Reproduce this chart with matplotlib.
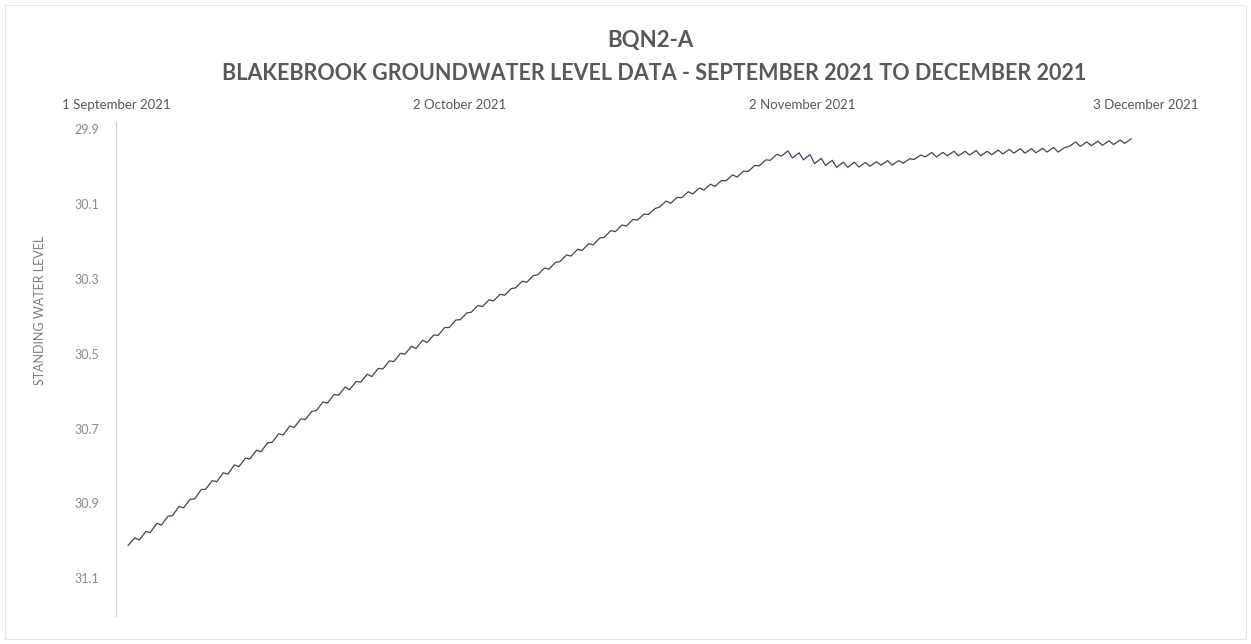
import numpy as np
import pandas as pd
import matplotlib
matplotlib.use("Agg")
import matplotlib.pyplot as plt
from matplotlib.patches import Rectangle

plt.rcParams["font.family"] = ["Lato", "DejaVu Sans"]

# readings: two per day (morning, evening), day 1 = 2 Sep 2021
days = np.arange(1, 92)
morning = [
    31.012, 30.998, 30.978, 30.958, 30.933, 30.912, 30.888, 30.862, 30.842, 30.822,
    30.802, 30.781, 30.762, 30.737, 30.717, 30.697, 30.676, 30.652, 30.632, 30.611,
    30.596, 30.576, 30.561, 30.541, 30.521, 30.501, 30.486, 30.470, 30.451, 30.430,
    30.409, 30.389, 30.374, 30.359, 30.344, 30.324, 30.309, 30.289, 30.274, 30.254,
    30.239, 30.224, 30.209, 30.189, 30.174, 30.159, 30.143, 30.128, 30.108, 30.098,
    30.083, 30.073, 30.063, 30.053, 30.038, 30.028, 30.013, 29.998, 29.983, 29.972,
    29.977, 29.982, 29.992, 29.997, 30.002, 30.002, 30.001, 29.999, 29.996, 29.996,
    29.991, 29.981, 29.974, 29.974, 29.971, 29.971, 29.969, 29.971, 29.968, 29.966,
    29.964, 29.964, 29.963, 29.961, 29.961, 29.946, 29.946, 29.944, 29.943, 29.941,
    29.938,
]
evening = [
    30.992, 30.975, 30.953, 30.934, 30.908, 30.889, 30.863, 30.839, 30.818, 30.797,
    30.779, 30.758, 30.738, 30.714, 30.693, 30.674, 30.654, 30.629, 30.609, 30.589,
    30.574, 30.555, 30.539, 30.519, 30.499, 30.480, 30.464, 30.450, 30.430, 30.410,
    30.391, 30.371, 30.356, 30.341, 30.326, 30.306, 30.291, 30.271, 30.256, 30.236,
    30.221, 30.206, 30.191, 30.171, 30.156, 30.141, 30.127, 30.112, 30.092, 30.082,
    30.067, 30.057, 30.047, 30.037, 30.022, 30.012, 29.997, 29.982, 29.967, 29.958,
    29.963, 29.968, 29.978, 29.983, 29.988, 29.988, 29.989, 29.987, 29.984, 29.984,
    29.979, 29.969, 29.962, 29.962, 29.959, 29.959, 29.957, 29.959, 29.956, 29.954,
    29.952, 29.952, 29.951, 29.949, 29.949, 29.934, 29.934, 29.932, 29.931, 29.929,
    29.926,
]
tick_dates = ["2021-09-01", "2021-10-02", "2021-11-02", "2021-12-03"]
tick_labels = ["1 September 2021", "2 October 2021", "2 November 2021", "3 December 2021"]
y_ticks = [29.9, 30.1, 30.3, 30.5, 30.7, 30.9, 31.1]

start = pd.Timestamp("2021-09-01")
t_am = start + pd.to_timedelta(days + 0.1, unit="D")
t_pm = start + pd.to_timedelta(days + 0.7, unit="D")
df = pd.DataFrame({
    "time": np.concatenate([t_am, t_pm]),
    "level": np.concatenate([morning, evening]),
}).sort_values("time")

grey = "#8c8c8c"

fig = plt.figure(figsize=(12.51, 6.44), dpi=100)
ax = fig.add_axes([0.0927, 0.044, 0.823, 0.767])

ax.plot(df["time"], df["level"], color="#3a4858", lw=0.9)

ax.set_xlim(pd.Timestamp("2021-09-01"), pd.Timestamp("2021-12-03"))
ax.set_ylim(31.2, 29.88)
ax.set_yticks(y_ticks)
ax.set_yticklabels([f"{v:.1f}" for v in y_ticks], color=grey, fontsize=9)
ax.set_xticks([pd.Timestamp(d) for d in tick_dates])
ax.set_xticklabels(tick_labels, color="#595959", fontsize=9.5)
ax.xaxis.tick_top()
ax.tick_params(axis="x", length=0, pad=8)
ax.tick_params(axis="y", length=0, pad=12)

for s in ["top", "right", "bottom"]:
    ax.spines[s].set_visible(False)
ax.spines["left"].set_color("#d0d0d0")
ax.spines["left"].set_linewidth(0.8)

fig.text(0.52, 1 - 41 / 644, "BQN2-A", ha="center", va="center",
         fontsize=16, fontweight="bold", color="#595959")
fig.text(0.523, 1 - 73 / 644,
         "BLAKEBROOK GROUNDWATER LEVEL DATA - SEPTEMBER 2021 TO DECEMBER 2021",
         ha="center", va="center", fontsize=15.5, fontweight="bold", color="#595959")
fig.text(40 / 1251, 1 - 310 / 644, "STANDING WATER LEVEL", rotation=90,
         ha="center", va="center", fontsize=9, color="#7f7f7f")

fig.patches.append(Rectangle((5 / 1251, 5 / 644), 1 - 10 / 1251, 1 - 10 / 644,
                             transform=fig.transFigure, fill=False,
                             edgecolor="#e6e6e6", lw=0.8))

fig.savefig("out.png", dpi=100, facecolor="white")
